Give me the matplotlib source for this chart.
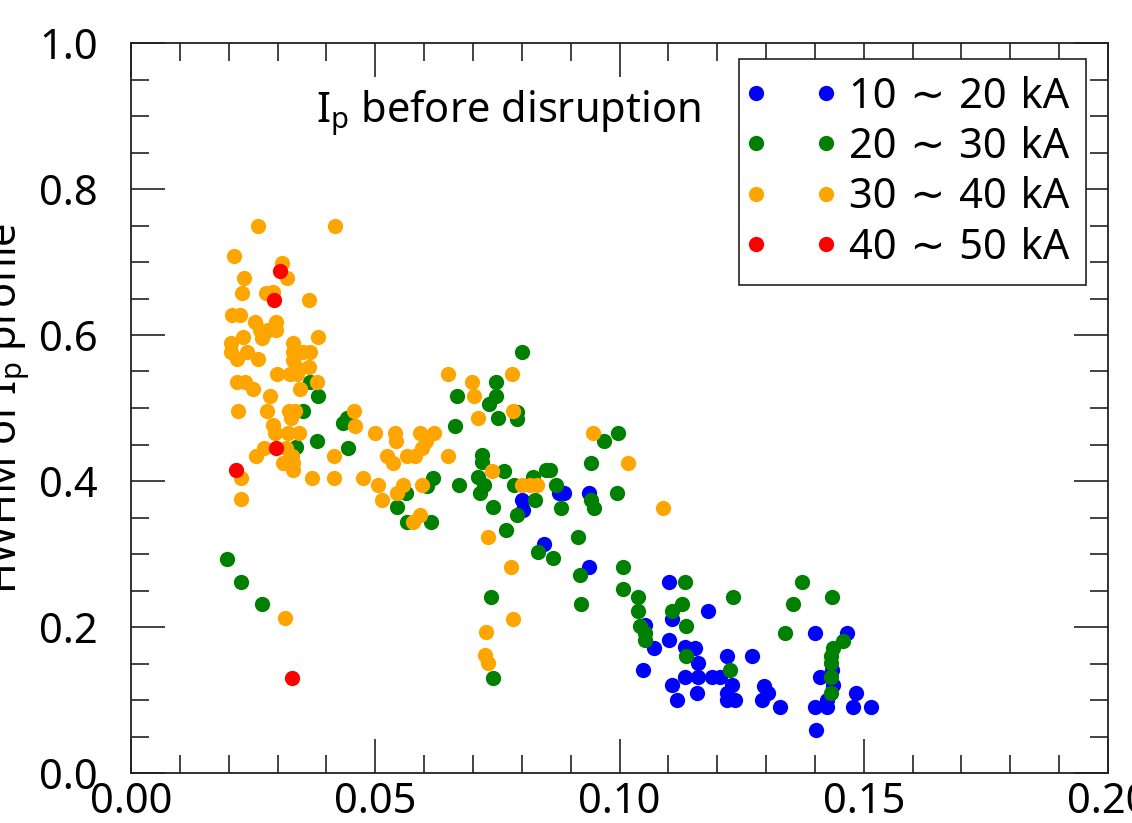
import matplotlib
matplotlib.use("Agg")
import matplotlib.pyplot as plt
from matplotlib.ticker import MultipleLocator, FormatStrFormatter
from matplotlib.lines import Line2D
from matplotlib.legend_handler import HandlerLine2D

plt.rcParams['font.family'] = ['Noto Sans', 'DejaVu Sans']
plt.rcParams['mathtext.fontset'] = 'custom'
plt.rcParams['mathtext.rm'] = 'Noto Sans'
plt.rcParams['mathtext.it'] = 'Noto Sans:italic'
plt.rcParams['mathtext.bf'] = 'Noto Sans:bold'

labels = ["10\u2004\u223c\u200420\u2004kA", "20\u2004\u223c\u200430\u2004kA",
          "30\u2004\u223c\u200440\u2004kA", "40\u2004\u223c\u200450\u2004kA"]
colors = ["#0000ff", "#008000", "#ffa500", "#ff0000"]

x_10_20 = [0.0800, 0.0802, 0.0876, 0.0886, 0.0938, 0.0845, 0.0938, 0.1101, 0.1181, 0.1107,
           0.1052, 0.1101, 0.1071, 0.1134, 0.1155, 0.1161, 0.1220, 0.1271, 0.1048, 0.1134,
           0.1161, 0.1189, 0.1206, 0.1230, 0.1107, 0.1159, 0.1220, 0.1118, 0.1220, 0.1236,
           0.1296, 0.1304, 0.1292, 0.1329, 0.1400, 0.1466, 0.1410, 0.1435, 0.1437, 0.1484,
           0.1425, 0.1400, 0.1425, 0.1478, 0.1515, 0.1402]
y_10_20 = [0.374, 0.360, 0.384, 0.384, 0.384, 0.314, 0.282, 0.262, 0.222, 0.211,
           0.203, 0.182, 0.171, 0.173, 0.171, 0.151, 0.160, 0.160, 0.141, 0.132,
           0.132, 0.132, 0.132, 0.121, 0.121, 0.110, 0.110, 0.100, 0.100, 0.100,
           0.119, 0.110, 0.100, 0.090, 0.192, 0.192, 0.132, 0.141, 0.121, 0.110,
           0.100, 0.090, 0.090, 0.090, 0.090, 0.059]

x_20_30 = [0.0197, 0.0225, 0.0268, 0.0366, 0.0383, 0.0352, 0.0338, 0.0381, 0.0434, 0.0442,
           0.0444, 0.0800, 0.0747, 0.0667, 0.0747, 0.0733, 0.0790, 0.0790, 0.0751, 0.0663,
           0.0719, 0.0719, 0.0764, 0.0618, 0.0606, 0.0710, 0.0723, 0.0714, 0.0671, 0.0563,
           0.0545, 0.0565, 0.0614, 0.0823, 0.0850, 0.0858, 0.0870, 0.0784, 0.0827, 0.0880,
           0.0741, 0.0790, 0.0768, 0.0915, 0.0833, 0.0864, 0.0942, 0.0968, 0.0997, 0.0942,
           0.0948, 0.0995, 0.0737, 0.0741, 0.0919, 0.0921, 0.1007, 0.1007, 0.1038, 0.1038,
           0.1042, 0.1052, 0.1052, 0.1134, 0.1128, 0.1107, 0.1136, 0.1136, 0.1232, 0.1226,
           0.1374, 0.1355, 0.1339, 0.1435, 0.1458, 0.1437, 0.1433, 0.1433, 0.1433, 0.1433]
y_20_30 = [0.293, 0.262, 0.232, 0.536, 0.516, 0.496, 0.447, 0.455, 0.479, 0.486,
           0.445, 0.577, 0.536, 0.516, 0.516, 0.505, 0.495, 0.485, 0.486, 0.475,
           0.436, 0.426, 0.414, 0.404, 0.393, 0.405, 0.395, 0.384, 0.395, 0.384,
           0.364, 0.344, 0.344, 0.405, 0.415, 0.415, 0.395, 0.395, 0.374, 0.363,
           0.364, 0.353, 0.333, 0.323, 0.303, 0.295, 0.425, 0.455, 0.466, 0.374,
           0.363, 0.384, 0.241, 0.130, 0.271, 0.232, 0.282, 0.252, 0.241, 0.222,
           0.201, 0.192, 0.182, 0.262, 0.232, 0.222, 0.201, 0.160, 0.241, 0.141,
           0.262, 0.232, 0.192, 0.241, 0.181, 0.171, 0.160, 0.151, 0.132, 0.110]

x_30_40 = [0.0260, 0.0418, 0.0211, 0.0309, 0.0319, 0.0231, 0.0227, 0.0276, 0.0291, 0.0364,
           0.0207, 0.0223, 0.0254, 0.0297, 0.0264, 0.0297, 0.0280, 0.0229, 0.0268, 0.0383,
           0.0205, 0.0332, 0.0205, 0.0237, 0.0217, 0.0260, 0.0332, 0.0352, 0.0366, 0.0332,
           0.0338, 0.0364, 0.0299, 0.0325, 0.0340, 0.0217, 0.0233, 0.0250, 0.0346, 0.0381,
           0.0285, 0.0219, 0.0278, 0.0323, 0.0336, 0.0328, 0.0291, 0.0295, 0.0321, 0.0344,
           0.0457, 0.0459, 0.0256, 0.0272, 0.0317, 0.0330, 0.0332, 0.0311, 0.0332, 0.0225,
           0.0371, 0.0416, 0.0475, 0.0416, 0.0225, 0.0499, 0.0506, 0.0540, 0.0542, 0.0592,
           0.0620, 0.0604, 0.0596, 0.0524, 0.0536, 0.0565, 0.0581, 0.0649, 0.0514, 0.0545,
           0.0557, 0.0596, 0.0592, 0.0577, 0.0649, 0.0698, 0.0780, 0.0702, 0.0710, 0.0782,
           0.0739, 0.0800, 0.0817, 0.0831, 0.0731, 0.0778, 0.0727, 0.0782, 0.0725, 0.0731,
           0.0946, 0.1017, 0.1089, 0.0315]
y_30_40 = [0.749, 0.749, 0.708, 0.699, 0.678, 0.678, 0.658, 0.658, 0.659, 0.648,
           0.627, 0.627, 0.618, 0.618, 0.607, 0.607, 0.607, 0.597, 0.596, 0.597,
           0.589, 0.589, 0.577, 0.577, 0.567, 0.567, 0.577, 0.577, 0.577, 0.566,
           0.556, 0.556, 0.547, 0.547, 0.547, 0.536, 0.536, 0.526, 0.526, 0.536,
           0.516, 0.496, 0.496, 0.496, 0.496, 0.486, 0.477, 0.466, 0.466, 0.466,
           0.496, 0.475, 0.434, 0.445, 0.445, 0.434, 0.425, 0.425, 0.415, 0.404,
           0.404, 0.404, 0.404, 0.434, 0.375, 0.466, 0.395, 0.466, 0.455, 0.466,
           0.466, 0.455, 0.445, 0.434, 0.425, 0.434, 0.434, 0.434, 0.374, 0.384,
           0.395, 0.395, 0.353, 0.344, 0.547, 0.536, 0.547, 0.516, 0.486, 0.496,
           0.414, 0.395, 0.395, 0.395, 0.323, 0.282, 0.193, 0.211, 0.162, 0.151,
           0.466, 0.425, 0.363, 0.212]

x_40_50 = [0.0305, 0.0293, 0.0297, 0.0215, 0.0330]
y_40_50 = [0.688, 0.648, 0.445, 0.415, 0.130]

series = [(x_10_20, y_10_20), (x_20_30, y_20_30), (x_30_40, y_30_40), (x_40_50, y_40_50)]

FS = 30

fig = plt.figure(figsize=(11.32, 8.23), dpi=100)
ax = fig.add_axes([131/1132, 50/823, 977/1132, 730/823])

for (xs, ys), c, lab in zip(series, colors, labels):
    ax.plot(xs, ys, linestyle='none', marker='o', markersize=11, color=c,
            markeredgewidth=0, label=lab)

ax.set_xlim(0, 0.2)
ax.set_ylim(0, 1.0)
ax.xaxis.set_major_locator(MultipleLocator(0.05))
ax.xaxis.set_minor_locator(MultipleLocator(0.01))
ax.yaxis.set_major_locator(MultipleLocator(0.2))
ax.yaxis.set_minor_locator(MultipleLocator(0.05))
ax.xaxis.set_major_formatter(FormatStrFormatter('%.2f'))
ax.yaxis.set_major_formatter(FormatStrFormatter('%.1f'))

ax.tick_params(which='both', direction='in', top=True, right=True, color='#222222', width=1.2)
ax.tick_params(which='major', length=24.5)
ax.tick_params(which='minor', length=13)
ax.tick_params(axis='x', which='major', labelsize=FS, pad=6)
ax.tick_params(axis='y', which='major', labelsize=FS, pad=24)
for s in ax.spines.values():
    s.set_linewidth(1.3)
    s.set_color('#222222')

ax.set_ylabel(r'HWHM of $\mathrm{I_p}$ profile', fontsize=FS)
ax.yaxis.set_label_coords(-0.101, 0.5)

ax.text(0.189, 0.892, r'$\mathrm{I_p}$ before disruption', transform=ax.transAxes,
        fontsize=FS, ha='left', va='baseline')

leg = ax.legend(loc='upper right', bbox_to_anchor=(0.9775, 0.9781), borderaxespad=0,
                handler_map={Line2D: HandlerLine2D(marker_pad=0.0, numpoints=2)},
                fontsize=FS, handlelength=1.68, handletextpad=0.55,
                labelspacing=0.2, borderpad=0.4, fancybox=False, framealpha=1,
                edgecolor='#222222')
leg.get_frame().set_linewidth(1.2)

fig.savefig('out.png', dpi=100)
